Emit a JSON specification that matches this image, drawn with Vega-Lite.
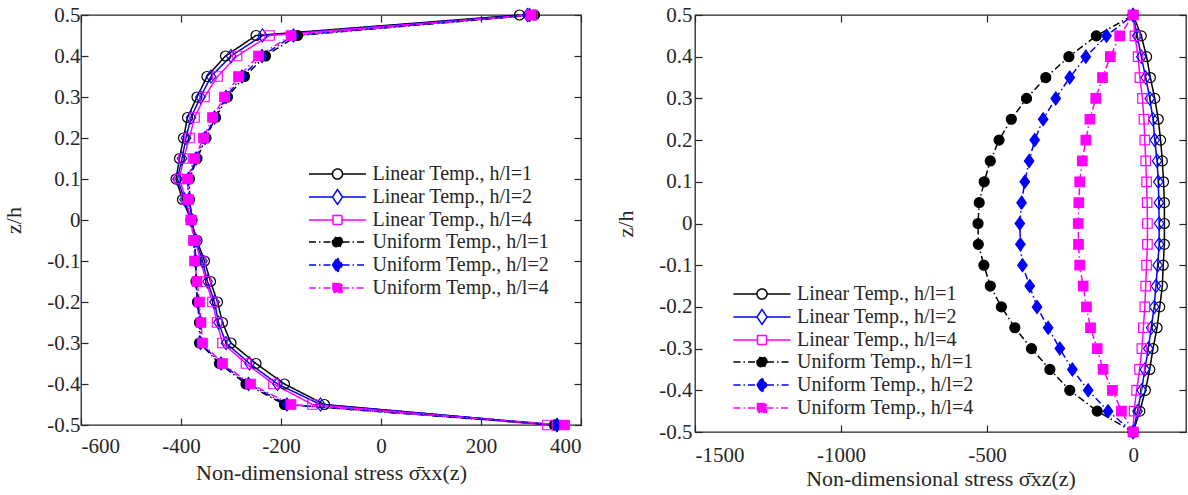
{
  "$schema": "https://vega.github.io/schema/vega-lite/v6.json",
  "background": "white",
  "padding": {"left": 2, "top": 3, "right": 0, "bottom": 0},
  "spacing": 31,
  "resolve": {
    "scale": {"color": "independent", "stroke": "independent", "fill": "independent", "shape": "independent", "strokeDash": "independent"},
    "legend": {"color": "independent", "stroke": "independent", "fill": "independent", "shape": "independent", "strokeDash": "independent"}
  },
  "datasets": {
    "sxx": [
      {"z": 0.5, "L1": 277, "L2": 293, "L4": 303, "U1": 307, "U2": 297, "U4": 300},
      {"z": 0.45, "L1": -250, "L2": -237, "L4": -223, "U1": -167, "U2": -175, "U4": -180},
      {"z": 0.4, "L1": -311, "L2": -300, "L4": -288, "U1": -231, "U2": -238, "U4": -245},
      {"z": 0.35, "L1": -348, "L2": -340, "L4": -327, "U1": -273, "U2": -278, "U4": -285},
      {"z": 0.3, "L1": -368, "L2": -361, "L4": -353, "U1": -307, "U2": -310, "U4": -313},
      {"z": 0.25, "L1": -387, "L2": -380, "L4": -373, "U1": -331, "U2": -333, "U4": -337},
      {"z": 0.2, "L1": -395, "L2": -390, "L4": -383, "U1": -350, "U2": -352, "U4": -355},
      {"z": 0.15, "L1": -403, "L2": -398, "L4": -395, "U1": -368, "U2": -370, "U4": -373},
      {"z": 0.1, "L1": -410, "L2": -407, "L4": -403, "U1": -383, "U2": -385, "U4": -387},
      {"z": 0.05, "L1": -397, "L2": -393, "L4": -390, "U1": -383, "U2": -383, "U4": -385},
      {"z": 0, "L1": -380, "L2": -380, "L4": -380, "U1": -378, "U2": -378, "U4": -380},
      {"z": -0.05, "L1": -368, "L2": -370, "L4": -372, "U1": -373, "U2": -373, "U4": -375},
      {"z": -0.1, "L1": -353, "L2": -357, "L4": -360, "U1": -370, "U2": -371, "U4": -373},
      {"z": -0.15, "L1": -341, "L2": -347, "L4": -350, "U1": -370, "U2": -370, "U4": -368},
      {"z": -0.2, "L1": -327, "L2": -333, "L4": -337, "U1": -367, "U2": -366, "U4": -363},
      {"z": -0.25, "L1": -317, "L2": -325, "L4": -328, "U1": -363, "U2": -362, "U4": -360},
      {"z": -0.3, "L1": -300, "L2": -310, "L4": -317, "U1": -363, "U2": -361, "U4": -357},
      {"z": -0.35, "L1": -250, "L2": -263, "L4": -270, "U1": -323, "U2": -320, "U4": -317},
      {"z": -0.4, "L1": -193, "L2": -207, "L4": -215, "U1": -270, "U2": -265, "U4": -261},
      {"z": -0.45, "L1": -113, "L2": -121, "L4": -137, "U1": -193, "U2": -188, "U4": -180},
      {"z": -0.5, "L1": 347, "L2": 352, "L4": 333, "U1": 347, "U2": 352, "U4": 367}
    ],
    "sxz": [
      {"z": 0.5, "L1": 0, "L2": 0, "L4": 0, "U1": 0, "U2": 0, "U4": 0},
      {"z": 0.45, "L1": 28, "L2": 14, "L4": 6, "U1": -126, "U2": -91, "U4": -46},
      {"z": 0.4, "L1": 46, "L2": 28, "L4": 17, "U1": -220, "U2": -162, "U4": -78},
      {"z": 0.35, "L1": 59, "L2": 43, "L4": 23, "U1": -299, "U2": -217, "U4": -105},
      {"z": 0.3, "L1": 74, "L2": 57, "L4": 32, "U1": -365, "U2": -265, "U4": -128},
      {"z": 0.25, "L1": 86, "L2": 68, "L4": 37, "U1": -417, "U2": -308, "U4": -148},
      {"z": 0.2, "L1": 94, "L2": 74, "L4": 40, "U1": -459, "U2": -337, "U4": -162},
      {"z": 0.15, "L1": 100, "L2": 82, "L4": 43, "U1": -489, "U2": -356, "U4": -174},
      {"z": 0.1, "L1": 104, "L2": 86, "L4": 46, "U1": -510, "U2": -371, "U4": -183},
      {"z": 0.05, "L1": 107, "L2": 88, "L4": 48, "U1": -527, "U2": -382, "U4": -186},
      {"z": 0, "L1": 107, "L2": 89, "L4": 49, "U1": -531, "U2": -388, "U4": -188},
      {"z": -0.05, "L1": 107, "L2": 89, "L4": 49, "U1": -530, "U2": -386, "U4": -187},
      {"z": -0.1, "L1": 103, "L2": 84, "L4": 46, "U1": -511, "U2": -379, "U4": -183},
      {"z": -0.15, "L1": 100, "L2": 78, "L4": 43, "U1": -489, "U2": -354, "U4": -171},
      {"z": -0.2, "L1": 91, "L2": 72, "L4": 40, "U1": -451, "U2": -329, "U4": -160},
      {"z": -0.25, "L1": 82, "L2": 62, "L4": 35, "U1": -405, "U2": -291, "U4": -146},
      {"z": -0.3, "L1": 68, "L2": 52, "L4": 30, "U1": -348, "U2": -251, "U4": -123},
      {"z": -0.35, "L1": 57, "L2": 40, "L4": 22, "U1": -285, "U2": -208, "U4": -103},
      {"z": -0.4, "L1": 42, "L2": 29, "L4": 12, "U1": -217, "U2": -154, "U4": -71},
      {"z": -0.45, "L1": 23, "L2": 15, "L4": 3, "U1": -123, "U2": -86, "U4": -40},
      {"z": -0.5, "L1": 0, "L2": 0, "L4": 0, "U1": 0, "U2": 0, "U4": 0}
    ]
  },
  "config": {
    "font": "Liberation Serif",
    "style": {"guide-label": {"font": "Liberation Serif"}, "guide-title": {"font": "Liberation Serif"}},
    "view": {"stroke": "#262626", "strokeWidth": 1.3},
    "axis": {"grid": false, "domain": false, "tickColor": "#262626", "tickSize": -7, "tickWidth": 1.2, "labelFontSize": 21, "labelColor": "#262626", "titleFontSize": 22, "titleFontWeight": "normal", "titleColor": "#262626", "labelFont": "Liberation Serif", "titleFont": "Liberation Serif"},
    "legend": {"labelFont": "Liberation Serif", "labelFontSize": 20, "labelColor": "#262626", "labelLimit": 400, "padding": 0, "rowPadding": 2, "symbolSize": 324, "symbolOffset": 0, "labelOffset": 25, "symbolStrokeWidth": 1.5}
  },
  "hconcat": [
    {
      "width": 500,
      "height": 410,
      "data": {"name": "sxx"},
      "transform": [{"fold": ["L1", "L2", "L4", "U1", "U2", "U4"], "as": ["s", "v"]}],
      "layer": [
        {
          "mark": {"type": "line", "strokeWidth": 1.5},
          "encoding": {
            "x": {"field": "v", "type": "quantitative", "scale": {"domain": [-600, 400], "nice": false, "zero": false},
                  "axis": {"values": [-600, -400, -200, 0, 200, 400], "format": "d", "title": "Non-dimensional stress σ̄xx(z)", "labelFont": "Liberation Serif", "titleFont": "Liberation Serif", "labelExpr": "replace(datum.label, '\u2212', '-')", "labelPadding": 17, "titlePadding": 6}},
            "y": {"field": "z", "type": "quantitative", "scale": {"domain": [-0.5, 0.5], "nice": false, "zero": false},
                  "axis": {"values": [-0.5, -0.4, -0.3, -0.2, -0.1, 0, 0.1, 0.2, 0.3, 0.4, 0.5], "title": "z/h", "labelFont": "Liberation Serif", "titleFont": "Liberation Serif", "labelExpr": "datum.value == 0 ? '0' : replace(format(datum.value, '.1f'), '\u2212', '-')", "labelPadding": 8, "titlePadding": 21}},
            "order": {"field": "z", "type": "quantitative"},
            "color": {"field": "s", "type": "nominal", "scale": {"domain": ["L1", "L2", "L4", "U1", "U2", "U4"], "range": ["#000000", "#0000ff", "#ff00ff", "#000000", "#0000ff", "#ff00ff"]},
                      "legend": {"title": null, "orient": "none", "legendX": 246.5, "legendY": 149,
                                 "labelExpr": "datum.value == 'L1' ? 'Linear Temp., h/l=1' : datum.value == 'L2' ? 'Linear Temp., h/l=2' : datum.value == 'L4' ? 'Linear Temp., h/l=4' : datum.value == 'U1' ? 'Uniform Temp., h/l=1' : datum.value == 'U2' ? 'Uniform Temp., h/l=2' : 'Uniform Temp., h/l=4'"}},
            "strokeDash": {"field": "s", "type": "nominal", "scale": {"domain": ["L1", "L2", "L4", "U1", "U2", "U4"], "range": [[1, 0], [1, 0], [1, 0], [7, 3, 1.5, 3], [7, 3, 1.5, 3], [7, 3, 1.5, 3]]}}
          }
        },
        {
          "transform": [{"filter": "datum.s == 'L1' || datum.s == 'U1'"}],
          "mark": {"type": "point", "shape": "circle", "size": 100, "strokeWidth": 1.2, "opacity": 1},
          "encoding": {
            "x": {"field": "v", "type": "quantitative", "axis": {"orient": "top", "labels": false, "title": null, "values": [-600, -400, -200, 0, 200, 400]}},
            "y": {"field": "z", "type": "quantitative", "axis": {"orient": "right", "labels": false, "title": null, "values": [-0.5, -0.4, -0.3, -0.2, -0.1, 0, 0.1, 0.2, 0.3, 0.4, 0.5]}},
            "stroke": {"field": "s", "type": "nominal", "scale": {"domain": ["L1", "L2", "L4", "U1", "U2", "U4"], "range": ["#000000", "#0000ff", "#ff00ff", "#000000", "#0000ff", "#ff00ff"]}},
            "fill": {"field": "s", "type": "nominal", "scale": {"domain": ["L1", "L2", "L4", "U1", "U2", "U4"], "range": ["transparent", "transparent", "transparent", "#000000", "#0000ff", "#ff00ff"]}}
          }
        },
        {
          "transform": [{"filter": "datum.s == 'L2' || datum.s == 'U2'"}],
          "mark": {"type": "point", "shape": "M0,-1.3L0.95,0L0,1.3L-0.95,0Z", "size": 100, "strokeWidth": 1.2, "opacity": 1},
          "encoding": {
            "x": {"field": "v", "type": "quantitative", "axis": null},
            "y": {"field": "z", "type": "quantitative", "axis": null},
            "stroke": {"field": "s", "type": "nominal"},
            "fill": {"field": "s", "type": "nominal"}
          }
        },
        {
          "transform": [{"filter": "datum.s == 'L4' || datum.s == 'U4'"}],
          "mark": {"type": "point", "shape": "square", "size": 90, "strokeWidth": 1.2, "opacity": 1},
          "encoding": {
            "x": {"field": "v", "type": "quantitative", "axis": null},
            "y": {"field": "z", "type": "quantitative", "axis": null},
            "stroke": {"field": "s", "type": "nominal"},
            "fill": {"field": "s", "type": "nominal"}
          }
        },
        {
          "transform": [{"filter": "false"}],
          "mark": {"type": "point", "size": 324, "strokeWidth": 1.5, "opacity": 1},
          "encoding": {
            "x": {"field": "v", "type": "quantitative", "axis": null},
            "y": {"field": "z", "type": "quantitative", "axis": null},
            "shape": {"field": "s", "type": "nominal",
                      "scale": {"domain": ["L1", "L2", "L4", "U1", "U2", "U4"], "range": [
                        "M-3.17,0H-0.56M0.56,0H3.17M-0.56,0A0.56,0.56 0 1,0 0.56,0A0.56,0.56 0 1,0 -0.56,0Z",
                        "M-3.17,0H-0.56M0.56,0H3.17M-0.56,0L0,-0.83L0.56,0L0,0.83Z",
                        "M-3.17,0H-0.5M0.5,0H3.17M-0.5,-0.5H0.5V0.5H-0.5Z",
                        "M-3.17,0H-0.56M0.56,0H3.17M-0.56,0A0.56,0.56 0 1,0 0.56,0A0.56,0.56 0 1,0 -0.56,0Z",
                        "M-3.17,0H-0.56M0.56,0H3.17M-0.56,0L0,-0.83L0.56,0L0,0.83Z",
                        "M-3.17,0H-0.5M0.5,0H3.17M-0.5,-0.5H0.5V0.5H-0.5Z"]},
                      "legend": {"title": null, "orient": "none", "legendX": 246.5, "legendY": 149,
                                 "labelExpr": "datum.value == 'L1' ? 'Linear Temp., h/l=1' : datum.value == 'L2' ? 'Linear Temp., h/l=2' : datum.value == 'L4' ? 'Linear Temp., h/l=4' : datum.value == 'U1' ? 'Uniform Temp., h/l=1' : datum.value == 'U2' ? 'Uniform Temp., h/l=2' : 'Uniform Temp., h/l=4'"}},
            "stroke": {"field": "s", "type": "nominal"},
            "fill": {"field": "s", "type": "nominal"},
            "strokeDash": {"field": "s", "type": "nominal"}
          }
        }
      ],
      "resolve": {"axis": {"x": "independent", "y": "independent"}}
    },
    {
      "width": 491,
      "height": 417,
      "data": {"name": "sxz"},
      "transform": [{"fold": ["L1", "L2", "L4", "U1", "U2", "U4"], "as": ["s", "v"]}],
      "layer": [
        {
          "mark": {"type": "line", "strokeWidth": 1.5},
          "encoding": {
            "x": {"field": "v", "type": "quantitative", "scale": {"domain": [-1500, 181], "nice": false, "zero": false},
                  "axis": {"values": [-1500, -1000, -500, 0], "format": "d", "title": "Non-dimensional stress σ̄xz(z)", "labelFont": "Liberation Serif", "titleFont": "Liberation Serif", "labelExpr": "replace(datum.label, '\u2212', '-')", "labelPadding": 19, "titlePadding": 3}},
            "y": {"field": "z", "type": "quantitative", "scale": {"domain": [-0.5, 0.5], "nice": false, "zero": false},
                  "axis": {"values": [-0.5, -0.4, -0.3, -0.2, -0.1, 0, 0.1, 0.2, 0.3, 0.4, 0.5], "title": "z/h", "labelFont": "Liberation Serif", "titleFont": "Liberation Serif", "labelExpr": "datum.value == 0 ? '0' : replace(format(datum.value, '.1f'), '\u2212', '-')", "labelPadding": 10, "titlePadding": 21}},
            "order": {"field": "z", "type": "quantitative"},
            "color": {"field": "s", "type": "nominal", "scale": {"domain": ["L1", "L2", "L4", "U1", "U2", "U4"], "range": ["#000000", "#0000ff", "#ff00ff", "#000000", "#0000ff", "#ff00ff"]},
                      "legend": {"title": null, "orient": "none", "legendX": 57, "legendY": 269,
                                 "labelExpr": "datum.value == 'L1' ? 'Linear Temp., h/l=1' : datum.value == 'L2' ? 'Linear Temp., h/l=2' : datum.value == 'L4' ? 'Linear Temp., h/l=4' : datum.value == 'U1' ? 'Uniform Temp., h/l=1' : datum.value == 'U2' ? 'Uniform Temp., h/l=2' : 'Uniform Temp., h/l=4'"}},
            "strokeDash": {"field": "s", "type": "nominal", "scale": {"domain": ["L1", "L2", "L4", "U1", "U2", "U4"], "range": [[1, 0], [1, 0], [1, 0], [7, 3, 1.5, 3], [7, 3, 1.5, 3], [7, 3, 1.5, 3]]}}
          }
        },
        {
          "transform": [{"filter": "datum.s == 'L1' || datum.s == 'U1'"}],
          "mark": {"type": "point", "shape": "circle", "size": 100, "strokeWidth": 1.2, "opacity": 1},
          "encoding": {
            "x": {"field": "v", "type": "quantitative", "axis": {"orient": "top", "labels": false, "title": null, "values": [-1500, -1000, -500, 0]}},
            "y": {"field": "z", "type": "quantitative", "axis": {"orient": "right", "labels": false, "title": null, "values": [-0.5, -0.4, -0.3, -0.2, -0.1, 0, 0.1, 0.2, 0.3, 0.4, 0.5]}},
            "stroke": {"field": "s", "type": "nominal", "scale": {"domain": ["L1", "L2", "L4", "U1", "U2", "U4"], "range": ["#000000", "#0000ff", "#ff00ff", "#000000", "#0000ff", "#ff00ff"]}},
            "fill": {"field": "s", "type": "nominal", "scale": {"domain": ["L1", "L2", "L4", "U1", "U2", "U4"], "range": ["transparent", "transparent", "transparent", "#000000", "#0000ff", "#ff00ff"]}}
          }
        },
        {
          "transform": [{"filter": "datum.s == 'L2' || datum.s == 'U2'"}],
          "mark": {"type": "point", "shape": "M0,-1.3L0.95,0L0,1.3L-0.95,0Z", "size": 100, "strokeWidth": 1.2, "opacity": 1},
          "encoding": {
            "x": {"field": "v", "type": "quantitative", "axis": null},
            "y": {"field": "z", "type": "quantitative", "axis": null},
            "stroke": {"field": "s", "type": "nominal"},
            "fill": {"field": "s", "type": "nominal"}
          }
        },
        {
          "transform": [{"filter": "datum.s == 'L4' || datum.s == 'U4'"}],
          "mark": {"type": "point", "shape": "square", "size": 90, "strokeWidth": 1.2, "opacity": 1},
          "encoding": {
            "x": {"field": "v", "type": "quantitative", "axis": null},
            "y": {"field": "z", "type": "quantitative", "axis": null},
            "stroke": {"field": "s", "type": "nominal"},
            "fill": {"field": "s", "type": "nominal"}
          }
        },
        {
          "transform": [{"filter": "false"}],
          "mark": {"type": "point", "size": 324, "strokeWidth": 1.5, "opacity": 1},
          "encoding": {
            "x": {"field": "v", "type": "quantitative", "axis": null},
            "y": {"field": "z", "type": "quantitative", "axis": null},
            "shape": {"field": "s", "type": "nominal",
                      "scale": {"domain": ["L1", "L2", "L4", "U1", "U2", "U4"], "range": [
                        "M-3.17,0H-0.56M0.56,0H3.17M-0.56,0A0.56,0.56 0 1,0 0.56,0A0.56,0.56 0 1,0 -0.56,0Z",
                        "M-3.17,0H-0.56M0.56,0H3.17M-0.56,0L0,-0.83L0.56,0L0,0.83Z",
                        "M-3.17,0H-0.5M0.5,0H3.17M-0.5,-0.5H0.5V0.5H-0.5Z",
                        "M-3.17,0H-0.56M0.56,0H3.17M-0.56,0A0.56,0.56 0 1,0 0.56,0A0.56,0.56 0 1,0 -0.56,0Z",
                        "M-3.17,0H-0.56M0.56,0H3.17M-0.56,0L0,-0.83L0.56,0L0,0.83Z",
                        "M-3.17,0H-0.5M0.5,0H3.17M-0.5,-0.5H0.5V0.5H-0.5Z"]},
                      "legend": {"title": null, "orient": "none", "legendX": 57, "legendY": 269,
                                 "labelExpr": "datum.value == 'L1' ? 'Linear Temp., h/l=1' : datum.value == 'L2' ? 'Linear Temp., h/l=2' : datum.value == 'L4' ? 'Linear Temp., h/l=4' : datum.value == 'U1' ? 'Uniform Temp., h/l=1' : datum.value == 'U2' ? 'Uniform Temp., h/l=2' : 'Uniform Temp., h/l=4'"}},
            "stroke": {"field": "s", "type": "nominal"},
            "fill": {"field": "s", "type": "nominal"},
            "strokeDash": {"field": "s", "type": "nominal"}
          }
        }
      ],
      "resolve": {"axis": {"x": "independent", "y": "independent"}}
    }
  ]
}
